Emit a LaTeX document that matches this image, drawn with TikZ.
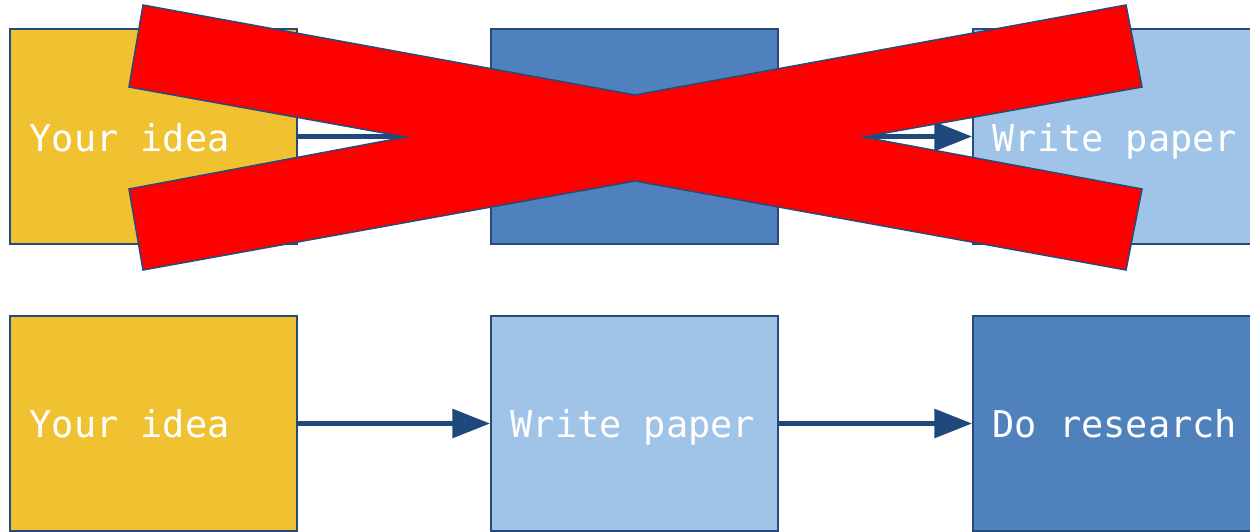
\documentclass[tikz,border=0pt]{standalone}
\usepackage{fontspec}
\newfontfamily\boxmono[WordSpace={1,0,0}]{DejaVu Sans Mono}
\usetikzlibrary{arrows.meta}
\definecolor{ideayellow}{RGB}{240,194,50}
\definecolor{midblue}{RGB}{79,129,189}
\definecolor{lightblue}{RGB}{159,196,232}
\definecolor{edgeblue}{RGB}{38,74,122}
\definecolor{arrowblue}{RGB}{31,73,125}
\tikzset{
  stagebox/.style={draw=edgeblue, line width=0.85pt, rectangle,
    minimum width=5.74cm, minimum height=4.3cm, inner sep=0pt},
  boxtext/.style={text=white, inner sep=0pt, anchor=base west,
    font=\boxmono\fontsize{21}{25}\selectfont},
  flowarrow/.style={draw=arrowblue, line width=3.4pt,
    -{Triangle[length=0.76cm, width=0.56cm]}},
  crossmark/.style={fill=red, draw=edgeblue, line width=0.85pt, line join=miter}
}
\begin{document}
\begin{tikzpicture}[x=0.02cm, y=-0.02cm]
  \useasboundingbox (0,0) rectangle (1250,531);
  \clip (0,0) rectangle (1250,531);
  % top row (crossed out)
  \node[stagebox, fill=ideayellow] (t1) at (153.5,136.5) {};
  \node[stagebox, fill=midblue] (t2) at (634.5,136.5) {};
  \node[stagebox, fill=lightblue] (t3) at (1116.5,136.5) {};
  \node[boxtext] (t1text) at ([xshift=0.4cm, yshift=-0.3cm]t1.west) {Your idea};
  \node[boxtext] (t2text) at ([xshift=0.4cm, yshift=-0.3cm]t2.west) {Do research};
  \node[boxtext] (t3text) at ([xshift=0.4cm, yshift=-0.3cm]t3.west) {Write paper};
  \draw[flowarrow] (t1) -- (t2);
  \draw[flowarrow] (t2) -- (t3);
  % bottom row
  \node[stagebox, fill=ideayellow] (b1) at (153.5,423.5) {};
  \node[stagebox, fill=lightblue] (b2) at (634.5,423.5) {};
  \node[stagebox, fill=midblue] (b3) at (1116.5,423.5) {};
  \node[boxtext] (b1text) at ([xshift=0.4cm, yshift=-0.28cm]b1.west) {Your idea};
  \node[boxtext] (b2text) at ([xshift=0.4cm, yshift=-0.28cm]b2.west) {Write paper};
  \node[boxtext] (b3text) at ([xshift=0.4cm, yshift=-0.28cm]b3.west) {Do research};
  \draw[flowarrow] (b1) -- (b2);
  \draw[flowarrow] (b2) -- (b3);
  % red X
  \draw[crossmark] (143,5) -- (635,95) -- (1126,5) -- (1142,87) -- (863,137)
    -- (1142,189) -- (1126,270) -- (635,181) -- (143,270) -- (129,189)
    -- (406,137) -- (129,87) -- cycle;
\end{tikzpicture}
\end{document}
